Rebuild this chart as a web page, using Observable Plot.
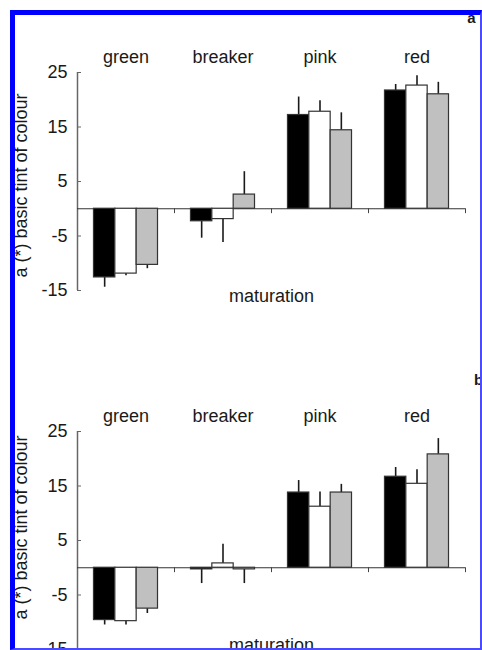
<!DOCTYPE html>
<html><head><meta charset="utf-8">
<script src="https://cdn.jsdelivr.net/npm/d3@7"></script>
<script src="https://cdn.jsdelivr.net/npm/@observablehq/plot@0.6"></script>
<style>
body{margin:0;background:#fff}
#root{position:relative;width:482px;height:650px;overflow:hidden;background:#fff}
#root svg{position:absolute;left:0}
#frame{position:absolute;left:10px;top:10px;width:472px;height:640px;box-sizing:border-box;border-left:5px solid #0000ff;border-top:5px solid #0000ff;border-right:2px solid #4a4aff;border-bottom:2px solid #4a4aff;pointer-events:none;z-index:5}
</style></head><body><div id="root"><div id="frame"></div></div>
<script>
const categories = ["green", "breaker", "pink", "red"];
const series = ["s1", "s2", "s3"];
const seriesFill = ["#000000", "#ffffff", "#c0c0c0"];
const yTicks = [25, 15, 5, -5, -15];
const yLabel = "a (*) basic tint of colour";
const xLabel = "maturation";

// panel a: means and error (one-sided) per category, per series
const panelAMeans = [[-12.6, -11.9, -10.3], [-2.3, -1.9, 2.6], [17.2, 17.8, 14.4], [21.7, 22.6, 21.0]];
const panelAErrors = [[1.8, 0.4, 0.7], [3.1, 4.3, 4.2], [3.3, 2.0, 3.2], [1.1, 1.8, 2.2]];
// panel b
const panelBMeans = [[-9.6, -9.8, -7.5], [-0.3, 0.8, -0.3], [13.8, 11.2, 13.8], [16.7, 15.4, 20.8]];
const panelBErrors = [[0.9, 0.7, 0.9], [2.6, 3.5, 2.6], [2.2, 2.7, 1.5], [1.7, 2.6, 2.9]];

const barW = 0.22;
const font = "'Liberation Sans', Arial, Helvetica, sans-serif";

function rowsOf(means, errors) {
  const rows = [];
  categories.forEach((c, ci) => series.forEach((s, si) => {
    rows.push({cat: c, ci, series: s, si, mean: means[ci][si], err: errors[ci][si]});
  }));
  return rows;
}

function panel(means, errors, letter, opts) {
  const rows = rowsOf(means, errors);
  return Plot.plot({
    width: 482,
    height: 310,
    marginTop: 72,
    marginBottom: 20,
    marginLeft: 77,
    marginRight: 17,
    style: {fontFamily: font, fontSize: "18px", color: "#1a1a1a", background: "transparent", overflow: "visible"},
    x: {domain: [-0.5, categories.length - 0.5], axis: null},
    y: {domain: [-15, 25], axis: null},
    color: {type: "identity"},
    marks: [
      Plot.axisY(yTicks, {anchor: "left", tickSize: -4, tickPadding: 14, fontSize: 18, stroke: "#666", label: null, tickFormat: d => String(d)}),
      Plot.ruleX([-0.5], {y1: -15, y2: 25, stroke: "#666", strokeWidth: 1.5}),
      Plot.ruleY([0], {stroke: "#333", strokeWidth: 1.2}),
      Plot.ruleX(categories.map((c, i) => i + 0.5), {y1: 0, y2: -0.9, stroke: "#444"}),
      Plot.ruleX(rows, {
        x: d => d.ci + (d.si - 1) * barW,
        y1: "mean",
        y2: d => d.mean + Math.sign(d.mean) * d.err,
        stroke: "#1a1a1a", strokeWidth: 1.6
      }),
      Plot.rectY(rows, {
        x1: d => d.ci + (d.si - 1.5) * barW,
        x2: d => d.ci + (d.si - 0.5) * barW,
        y1: 0, y2: "mean",
        fill: d => seriesFill[d.si],
        stroke: "#333", strokeWidth: 1.2
      }),
      Plot.text(categories, {x: (d, i) => i, frameAnchor: "top", lineAnchor: "middle", dy: -15, fontSize: 18}),
      Plot.text([xLabel], {frameAnchor: "bottom", lineAnchor: "middle", textAnchor: "middle", dy: opts.xLabelDy, fontSize: 18}),
      Plot.text([yLabel], {frameAnchor: "left", textAnchor: "middle", lineAnchor: "middle", rotate: -90, dx: -56, dy: opts.yLabelDy, fontSize: 18}),
      Plot.text([letter], {frameAnchor: "top-right", textAnchor: "middle", lineAnchor: "middle", dx: opts.letterDx, dy: opts.letterDy, fontSize: 15, fontWeight: "bold"})
    ]
  });
}

const root = document.getElementById("root");
const a = panel(panelAMeans, panelAErrors, "a", {xLabelDy: 6, yLabelDy: 4, letterDx: 6, letterDy: -54});
a.style.top = "0px";
const b = panel(panelBMeans, panelBErrors, "b", {xLabelDy: -4, yLabelDy: -13, letterDx: 13, letterDy: -51});
b.style.top = "359px";
root.insertBefore(a, root.firstChild);
root.insertBefore(b, root.firstChild);
</script>
</body></html>
